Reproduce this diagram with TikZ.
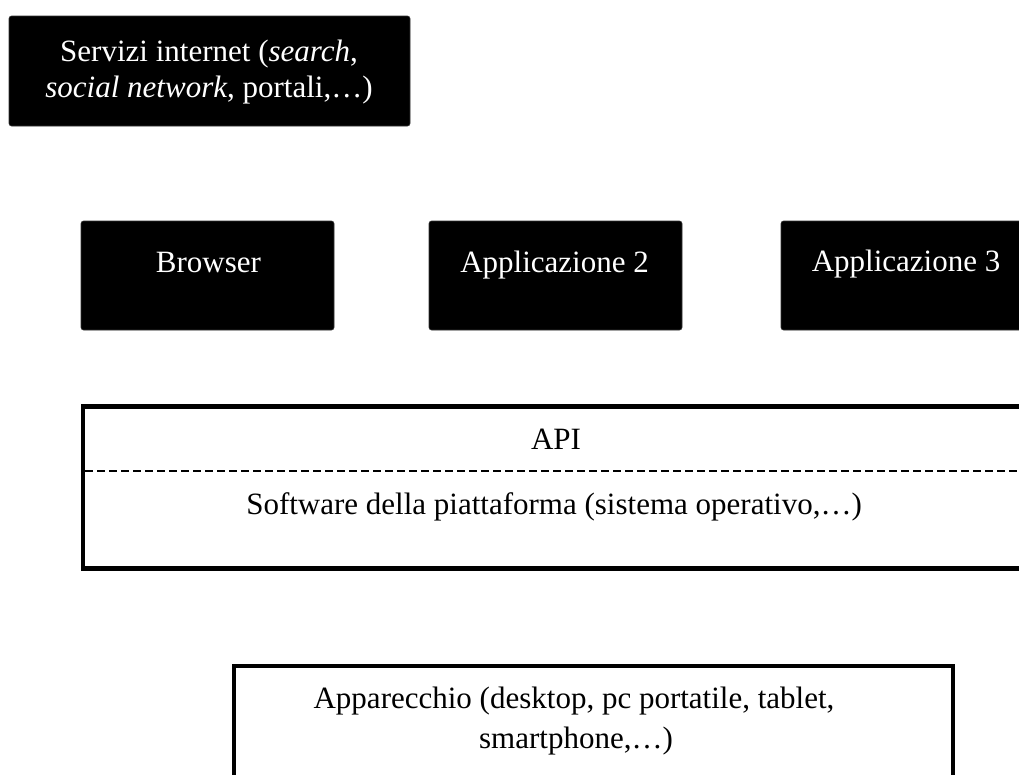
\documentclass[tikz,border=0pt]{standalone}
\usepackage{fontspec}
\setmainfont{Liberation Serif}
\begin{document}
\begin{tikzpicture}[x=1pt,y=-1pt,
  darkbox/.style={fill=black,draw=black!80,rounded corners=2.5pt,line width=0.6pt},
  txt/.style={font=\fontsize{31}{36}\selectfont,inner sep=0pt,anchor=base},
  whitetext/.style={txt,text=white},
  blacktext/.style={txt,text=black},
  frame/.style={draw=black,line width=4.5pt}]
  \useasboundingbox (0,0) rectangle (1019,774);
  \clip (0,0) rectangle (1019,774);

  % internet services
  \draw[darkbox] (9,16) rectangle (410,126);
  \node[whitetext] (servizi1) at (209,61) {Servizi internet (\textit{search},};
  \node[whitetext] (servizi2) at (209,97) {\textit{social network}, portali,\ldots)};

  % applications
  \draw[darkbox] (81,221) rectangle (334,330);
  \node[whitetext] (browser) at (208.5,272) {Browser};
  \draw[darkbox] (429,221) rectangle (682,330);
  \node[whitetext] (app2) at (554.5,272) {Applicazione 2};
  \draw[darkbox] (781,221) rectangle (1040,330);
  \node[whitetext] (app3) at (906,271) {Applicazione 3};

  % platform software
  \draw[frame] (83,406.5) rectangle (1030,568.5);
  \coordinate (dashL) at (85,471);
  \coordinate (dashR) at (1019,471);
  \draw[line width=1.6pt,dash pattern=on 8pt off 4pt] (dashL) -- (dashR);
  \node[blacktext] (api) at (556,449) {API};
  \node[blacktext] (sw) at (554,514) {Software della piattaforma (sistema operativo,\ldots)};

  % device
  \draw[frame] (234,666) rectangle (953,800);
  \node[blacktext] (dev1) at (574,708) {Apparecchio (desktop, pc portatile, tablet,};
  \node[blacktext] (dev2) at (576,748) {smartphone,\ldots)};
\end{tikzpicture}
\end{document}
